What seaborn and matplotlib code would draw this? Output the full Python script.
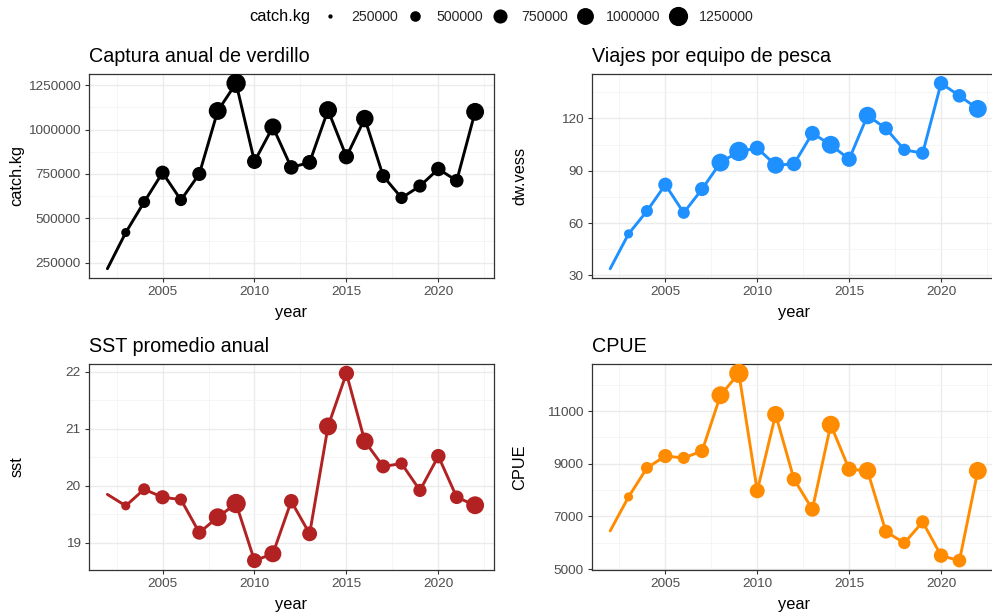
import numpy as np
import pandas as pd
import matplotlib
matplotlib.use("Agg")
import matplotlib.pyplot as plt
from matplotlib.ticker import MultipleLocator, FormatStrFormatter
from matplotlib.lines import Line2D
import seaborn as sns

# ---- data -------------------------------------------------------------
years = list(range(2002, 2023))
catch_kg = [216000, 420000, 592000, 757000, 603000, 750000, 1105000,
            1261000, 820000, 1015000, 787000, 815000, 1110000, 847000,
            1062000, 738000, 615000, 682000, 778000, 712000, 1100000]
dw_vess = [33.8, 53.8, 66.9, 82.0, 65.9, 79.5, 94.7, 101.1, 103.0, 93.2,
           93.9, 111.5, 104.9, 96.6, 121.7, 114.3, 102.0, 100.1, 140.2,
           133.0, 125.5]
sst = [19.85, 19.65, 19.94, 19.80, 19.76, 19.18, 19.45, 19.69, 18.69,
       18.81, 19.73, 19.16, 21.04, 21.97, 20.78, 20.34, 20.39, 19.92,
       20.52, 19.80, 19.66]
cpue = [6450, 7740, 8840, 9290, 9220, 9480, 11600, 12430, 7970, 10870,
        8410, 7270, 10480, 8790, 8730, 6420, 5990, 6790, 5510, 5320, 8730]
size_breaks = [250000, 500000, 750000, 1000000, 1250000]

df = pd.DataFrame({"year": years, "catch.kg": catch_kg,
                   "dw.vess": dw_vess, "sst": sst, "CPUE": cpue})

# ---- style ------------------------------------------------------------
sns.set_style("white")
plt.rcParams["font.family"] = ["Liberation Sans", "DejaVu Sans"]

TICK_COL = "#4D4D4D"
FRAME_COL = "#333333"

# point diameter (pt) on an area scale over the catch range
cmin, cmax = min(catch_kg), max(catch_kg)


def diameter(v):
    t = np.clip((v - cmin) / (cmax - cmin), 0, 1)
    return 0.72 + 13.2 * np.sqrt(t)


point_sizes = {v: diameter(v) ** 2 for v in catch_kg}

W, H = 992, 614
fig = plt.figure(figsize=(W / 100, H / 100), dpi=100)


def px_axes(left, top, right, bottom):
    return fig.add_axes([left / W, 1 - bottom / H,
                         (right - left) / W, (bottom - top) / H])


panels = [
    # column, title, colour, major step, major offset, minor step, box (px)
    ("catch.kg", "Captura anual de verdillo", "black", 250000, 0, 125000,
     (89, 74, 493.5, 278)),
    ("dw.vess", "Viajes por equipo de pesca", "#1E90FF", 30, 0, 15,
     (591.8, 74, 996.2, 278)),
    ("sst", "SST promedio anual", "#B22222", 1, 0, 0.5,
     (89, 364, 493.5, 570)),
    ("CPUE", "CPUE", "#FF8C00", 2000, 1000, 1000,
     (591.8, 364, 996.2, 570)),
]

for col, title, color, major, offset, minor, box in panels:
    ax = px_axes(*box)
    sns.lineplot(data=df, x="year", y=col, color=color, lw=2.1,
                 estimator=None, ax=ax, zorder=2)
    sns.scatterplot(data=df, x="year", y=col, size="catch.kg",
                    sizes=point_sizes, color=color, linewidth=0,
                    legend=False, ax=ax, zorder=3)
    ax.set_xlim(2001, 2023)
    ax.margins(y=0.05)

    ax.xaxis.set_major_locator(MultipleLocator(5))
    ax.xaxis.set_minor_locator(MultipleLocator(2.5))
    ax.yaxis.set_major_locator(MultipleLocator(major, offset=offset))
    ax.yaxis.set_minor_locator(MultipleLocator(minor))
    ax.yaxis.set_major_formatter(FormatStrFormatter("%d"))

    ax.grid(which="major", color="#EBEBEB", lw=1.0)
    ax.grid(which="minor", color="#F4F4F4", lw=0.6)
    ax.set_axisbelow(True)

    ax.tick_params(which="major", direction="out", length=3.0, width=0.8,
                   color=FRAME_COL, labelcolor=TICK_COL, labelsize=9.7,
                   bottom=True, left=True)
    ax.tick_params(axis="x", which="major", pad=2.5)
    ax.tick_params(axis="y", which="major", pad=3.0)
    ax.tick_params(which="minor", length=0)
    for s in ax.spines.values():
        s.set_color(FRAME_COL)
        s.set_linewidth(0.9)

    ax.set_title(title, loc="left", fontsize=14.2, color="black", pad=8.5)
    ax.set_xlabel("year", fontsize=11.8, color="black")
    ax.set_ylabel(col, fontsize=11.8, color="black")
    ax.xaxis.label.set_va("center")
    ax.yaxis.label.set_va("center")
    ax.xaxis.set_label_coords(0.5, -35 / (box[3] - box[1]))
    ax.yaxis.set_label_coords(-72 / (box[2] - box[0]), 0.5)

# ---- size legend on top ------------------------------------------------
fig.text(249 / W, 1 - 17 / H, "catch.kg", ha="left", va="center",
         fontsize=11.8, color="black")
handles = [Line2D([], [], marker="o", linestyle="", color="black",
                  markeredgewidth=0, markersize=diameter(b))
           for b in size_breaks]
fig.legend(handles, [str(b) for b in size_breaks], ncol=5,
           loc="center left", bbox_to_anchor=(319.8 / W, 1 - 17 / H),
           frameon=False, fontsize=10.2, handlelength=1.5,
           handletextpad=0.7, columnspacing=0.5, borderpad=0,
           borderaxespad=0)

fig.savefig("out.png", dpi=100)
